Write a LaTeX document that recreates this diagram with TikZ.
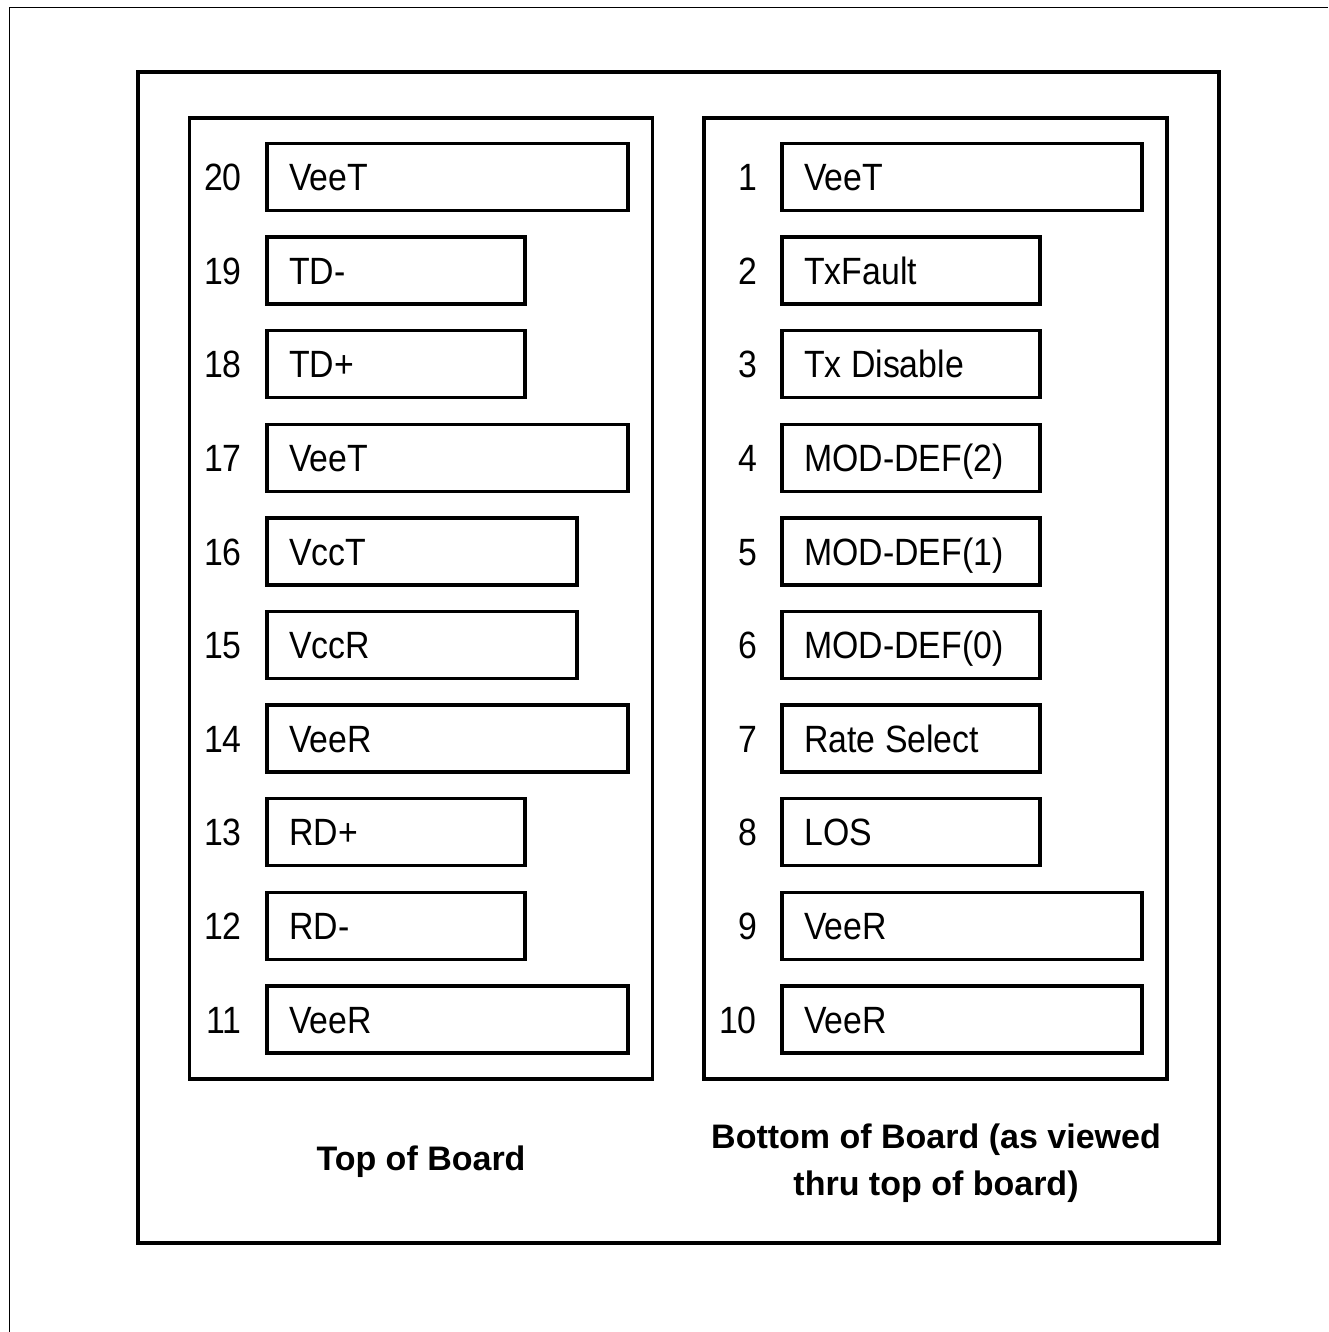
\documentclass[tikz,border=0pt]{standalone}
\usepackage{fontspec}
\setmainfont{Liberation Sans}
\newfontfamily\pinfont{Liberation Sans}[FakeStretch=0.89]
\begin{document}
\begin{tikzpicture}[x=1pt,y=-1pt,
  pinbox/.style={draw,line width=3.5pt,minimum height=67pt,inner sep=0pt,outer sep=0pt,anchor=west},
  panel/.style={draw,line width=3.5pt},
  pinnum/.style={anchor=base east,inner sep=0pt,font=\pinfont\fontsize{38}{44}\selectfont},
  pinname/.style={anchor=base west,inner sep=0pt,font=\pinfont\fontsize{38}{44}\selectfont},
  caption/.style={align=center,inner sep=0pt,font=\bfseries\fontsize{34}{47}\selectfont}]
\useasboundingbox (0,0) rectangle (1328,1332);
% outer partial frame
\draw[line width=1.6pt] (9.5,1332) -- (9.5,7.5) -- (1328,7.5);
% main board
\draw[panel] (138,72) rectangle (1219,1243);
% panels
\node[panel,inner sep=0pt,outer sep=0pt,minimum width=463pt,minimum height=961pt,anchor=north west] (lpanel) at (189.5,118) {};
\node[panel,inner sep=0pt,outer sep=0pt,minimum width=463pt,minimum height=961pt,anchor=north west] (rpanel) at (704,118) {};
% left column
\foreach \n/\t/\w [count=\i from 0] in {20/VeeT/361,19/TD-/258,18/TD+/258,17/VeeT/361,16/VccT/310,15/VccR/310,14/VeeR/361,13/RD+/258,12/RD-/258,11/VeeR/361}{
  \pgfmathsetmacro{\yc}{177+93.6*\i}
  \node[pinbox,minimum width=\w pt] (L\n) at (267,\yc) {};
  \node[pinnum] (LN\n) at (242,\yc+13.6) {\n};
  \node[pinname] (LT\n) at (289,\yc+13.6) {\t};
}
% right column
\foreach \n/\t/\w [count=\i from 0] in {1/VeeT/360,2/TxFault/258,3/Tx Disable/258,4/MOD-DEF(2)/258,5/MOD-DEF(1)/258,6/MOD-DEF(0)/258,7/Rate Select/258,8/LOS/258,9/VeeR/360,10/VeeR/360}{
  \pgfmathsetmacro{\yc}{177+93.6*\i}
  \node[pinbox,minimum width=\w pt] (R\n) at (782,\yc) {};
  \node[pinnum] (RN\n) at (757,\yc+13.6) {\n};
  \node[pinname] (RT\n) at (804,\yc+13.6) {\t};
}
% captions
\node[caption] (ctop) at (421,1162) {Top of Board};
\node[caption] (cbot) at (936,1163) {Bottom of Board (as viewed\\thru top of board)};
\end{tikzpicture}
\end{document}
